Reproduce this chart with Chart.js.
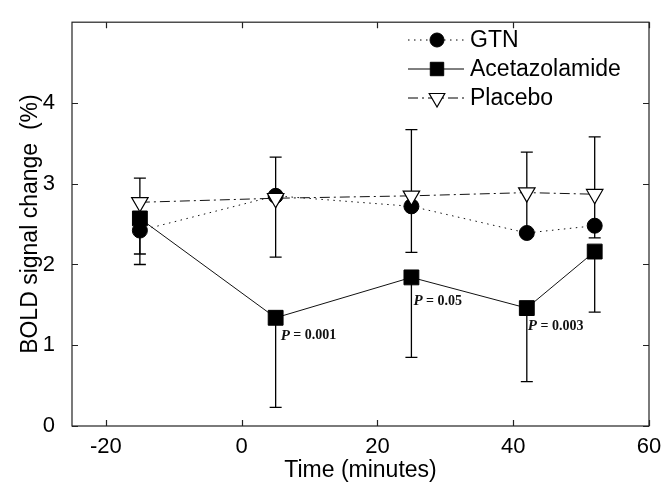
<!DOCTYPE html>
<html>
<head>
<meta charset="utf-8">
<script src="https://cdn.jsdelivr.net/npm/chart.js@4.4.1/dist/chart.umd.min.js"></script>
<style>
  html, body { margin: 0; padding: 0; background: #fff; }
  #wrap { width: 671px; height: 483px; }
</style>
</head>
<body>
<div id="wrap"><canvas id="chart" width="671" height="483"></canvas></div>
<script>
// --- data ---
const timeMinutes = [-15, 5, 25, 42, 52];
const gtnValues = [2.42, 2.85, 2.72, 2.39, 2.48];
const acetValues = [2.57, 1.34, 1.84, 1.46, 2.16];
const placeboValues = [2.77, 2.82, 2.85, 2.89, 2.87];

// error bar ends (null = no bar)
const gtnLow = [2.13, 2.09, 2.15, null, 2.33];
const gtnHigh = [2.42, 2.85, 2.72, null, 2.48];
const acetLow = [2.00, 0.23, 0.85, 0.55, 1.41];
const acetHigh = [2.57, 1.34, 1.84, 1.46, 2.16];
const placeboLow = [2.77, 2.82, 2.85, 2.39, 2.48];
const placeboHigh = [3.07, 3.33, 3.67, 3.39, 3.58];

const xTicks = [-20, 0, 20, 40, 60];
const yTicks = [0, 1, 2, 3, 4];

// p-values written under the acetazolamide points
const pIndex = [1, 2, 3];
const pLabels = ["0.001", "0.05", "0.003"];

const FONT = "Arial, 'Liberation Sans', sans-serif";

function toPoints(values) {
    return timeMinutes.map((t, i) => ({ x: t, y: values[i] }));
}

// error bars + box + inward ticks + legend + p labels
const matlabLook = {
    id: "matlabLook",
    beforeDatasetsDraw(chart) {
        const ctx = chart.ctx;
        const xs = chart.scales.x, ys = chart.scales.y;
        const bars = [
            [gtnLow, gtnHigh, gtnValues],
            [acetLow, acetHigh, acetValues],
            [placeboLow, placeboHigh, placeboValues]
        ];
        ctx.save();
        ctx.strokeStyle = "#000";
        ctx.lineWidth = 1.3;
        bars.forEach(([lo, hi, mid]) => {
            timeMinutes.forEach((t, i) => {
                if (lo[i] == null || hi[i] == null) return;
                const px = xs.getPixelForValue(t);
                const y1 = ys.getPixelForValue(lo[i]);
                const y2 = ys.getPixelForValue(hi[i]);
                ctx.beginPath();
                ctx.moveTo(px, y1);
                ctx.lineTo(px, y2);
                [lo[i], hi[i]].forEach(v => {
                    if (v === mid[i]) return;
                    const py = ys.getPixelForValue(v);
                    ctx.moveTo(px - 6, py);
                    ctx.lineTo(px + 6, py);
                });
                ctx.stroke();
            });
        });
        ctx.restore();
    },
    afterDraw(chart) {
        const ctx = chart.ctx;
        const a = chart.chartArea;
        const xs = chart.scales.x, ys = chart.scales.y;
        ctx.save();

        // box and inward ticks
        ctx.strokeStyle = "#222";
        ctx.lineWidth = 1.2;
        ctx.strokeRect(a.left, a.top, a.right - a.left, a.bottom - a.top);
        ctx.beginPath();
        xTicks.forEach(v => {
            const px = Math.round(xs.getPixelForValue(v)) + 0.5;
            ctx.moveTo(px, a.bottom); ctx.lineTo(px, a.bottom - 6);
            ctx.moveTo(px, a.top); ctx.lineTo(px, a.top + 6);
        });
        yTicks.forEach(v => {
            const py = Math.round(ys.getPixelForValue(v)) + 0.5;
            ctx.moveTo(a.left, py); ctx.lineTo(a.left + 6, py);
            ctx.moveTo(a.right, py); ctx.lineTo(a.right - 6, py);
        });
        ctx.stroke();

        // p-values
        const acetMeta = chart.getDatasetMeta(1);
        const pOffsets = [[5, 18], [2, 24], [1, 18]];
        pIndex.forEach((idx, k) => {
            const el = acetMeta.data[idx];
            const x0 = el.x + pOffsets[k][0];
            const y0 = el.y + pOffsets[k][1];
            ctx.fillStyle = "#111";
            ctx.textBaseline = "middle";
            ctx.textAlign = "left";
            ctx.font = "italic bold 15px 'Liberation Serif', 'Times New Roman', serif";
            ctx.fillText("P", x0, y0);
            const w = ctx.measureText("P").width;
            ctx.font = "bold 14px 'Liberation Serif', 'Times New Roman', serif";
            ctx.fillText(" = " + pLabels[k], x0 + w, y0);
        });

        // legend (no box)
        const rows = [40, 69, 98];
        chart.data.datasets.forEach((ds, i) => {
            const y = rows[i];
            ctx.strokeStyle = "#000";
            ctx.lineWidth = 1;
            ctx.setLineDash(ds.borderDash || []);
            ctx.beginPath();
            ctx.moveTo(408, y);
            ctx.lineTo(464, y);
            ctx.stroke();
            ctx.setLineDash([]);
            ctx.fillStyle = ds.pointBackgroundColor;
            ctx.strokeStyle = ds.pointBorderColor;
            ctx.lineWidth = ds.pointBorderWidth;
            Chart.helpers.drawPoint(ctx, {
                pointStyle: ds.pointStyle,
                rotation: ds.pointRotation || 0,
                radius: ds.legendRadius,
                borderWidth: ds.pointBorderWidth
            }, 437, y);
            ctx.fillStyle = "#000";
            ctx.font = "23px " + FONT;
            ctx.textAlign = "left";
            ctx.textBaseline = "middle";
            ctx.fillText(ds.label, 470, y + 1);
        });
        ctx.restore();
    }
};

new Chart(document.getElementById("chart"), {
    type: "line",
    data: {
        datasets: [
            {
                label: "GTN",
                data: toPoints(gtnValues),
                borderColor: "#111",
                borderWidth: 1,
                borderDash: [1.5, 4.5],
                pointStyle: "circle",
                pointRadius: 7.5,
                legendRadius: 7,
                pointBackgroundColor: "#000",
                pointBorderColor: "#000",
                pointBorderWidth: 1,
                order: 3
            },
            {
                label: "Acetazolamide",
                data: toPoints(acetValues),
                borderColor: "#111",
                borderWidth: 1,
                pointStyle: "rect",
                pointRadius: 10.5,
                legendRadius: 9.5,
                pointBackgroundColor: "#000",
                pointBorderColor: "#000",
                pointBorderWidth: 1,
                order: 2
            },
            {
                label: "Placebo",
                data: toPoints(placeboValues),
                borderColor: "#111",
                borderWidth: 1,
                borderDash: [10, 4, 2, 4],
                pointStyle: "triangle",
                pointRotation: 180,
                pointRadius: 9.5,
                legendRadius: 9,
                pointBackgroundColor: "#fff",
                pointBorderColor: "#000",
                pointBorderWidth: 1.2,
                order: 1
            }
        ]
    },
    options: {
        responsive: false,
        animation: false,
        devicePixelRatio: 1,
        layout: { padding: { left: 0, right: 22, top: 13, bottom: 0 } },
        plugins: {
            legend: { display: false },
            tooltip: { enabled: false }
        },
        elements: { line: { tension: 0 } },
        scales: {
            x: {
                type: "linear",
                min: -25,
                max: 60,
                afterBuildTicks: s => { s.ticks = xTicks.map(v => ({ value: v })); },
                afterFit: s => { s.height = 57; },
                grid: { display: false },
                border: { display: false },
                ticks: { color: "#000", padding: 0, maxRotation: 0, autoSkip: false, font: { family: FONT, size: 22 } },
                title: { display: true, text: "Time (minutes)", color: "#000", padding: { top: 0, bottom: -1 }, font: { family: FONT, size: 23 } }
            },
            y: {
                min: 0,
                max: 5,
                afterBuildTicks: s => { s.ticks = yTicks.map(v => ({ value: v })); },
                afterFit: s => { s.width = 72; },
                grid: { display: false },
                border: { display: false },
                ticks: { color: "#000", padding: 9, font: { family: FONT, size: 22 } },
                title: { display: true, text: "BOLD signal change  (%)", color: "#000", padding: { top: 17, bottom: 0 }, font: { family: FONT, size: 23 } }
            }
        }
    },
    plugins: [matlabLook]
});
</script>
</body>
</html>
